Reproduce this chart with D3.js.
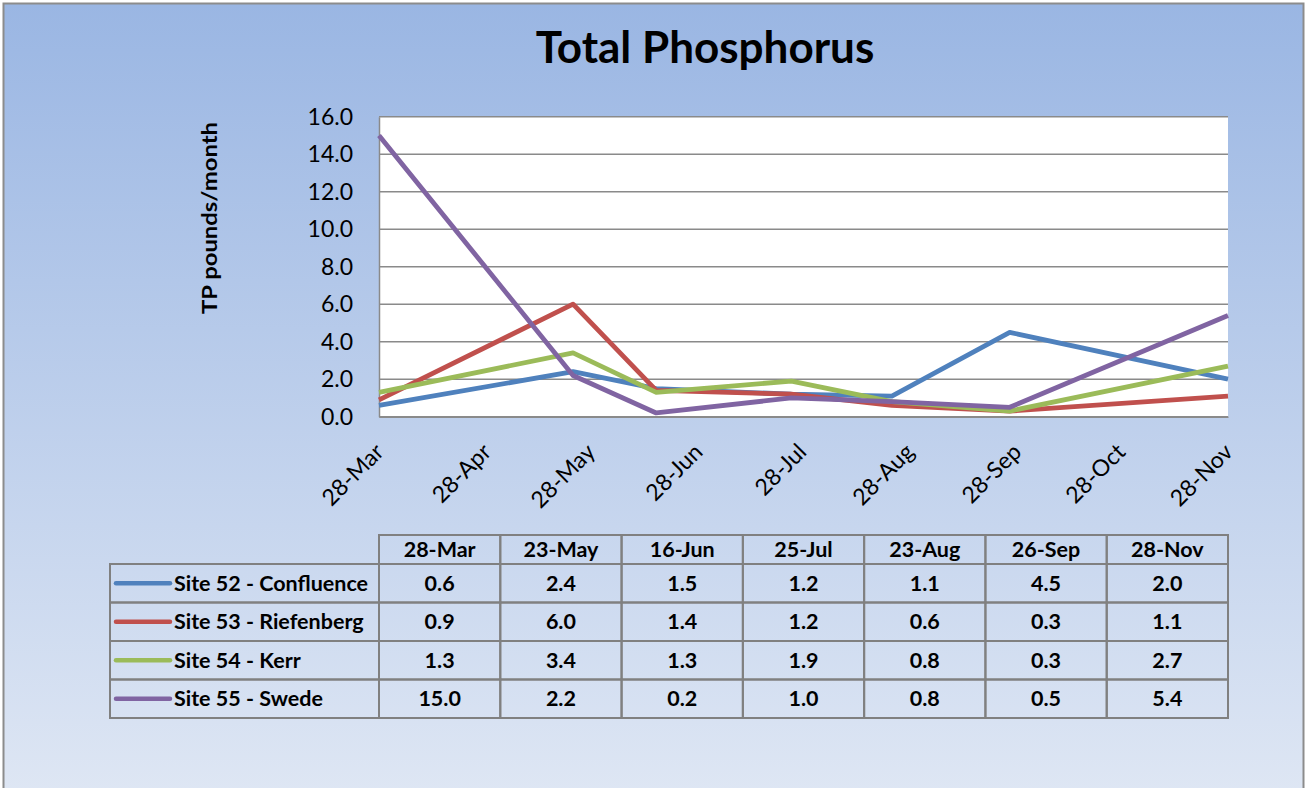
<!DOCTYPE html>
<html>
<head>
<meta charset="utf-8">
<script src="https://cdn.jsdelivr.net/npm/d3@7"></script>
<style>
  html, body { margin: 0; padding: 0; background: #fff; }
  svg { display: block; }
  text { font-family: Lato, "Open Sans", sans-serif; }
</style>
</head>
<body>
<svg id="chart" width="1305" height="788"></svg>
<script>
// ---- data ----
const sampleDates = ["2011-03-28", "2011-05-23", "2011-06-16", "2011-07-25", "2011-08-23", "2011-09-26", "2011-11-28"];
const columnLabels = ["28-Mar", "23-May", "16-Jun", "25-Jul", "23-Aug", "26-Sep", "28-Nov"];
const seriesNames = ["Site 52 - Confluence", "Site 53 - Riefenberg", "Site 54 - Kerr", "Site 55 - Swede"];
const confluence = [0.6, 2.4, 1.5, 1.2, 1.1, 4.5, 2.0];
const riefenberg = [0.9, 6.0, 1.4, 1.2, 0.6, 0.3, 1.1];
const kerr = [1.3, 3.4, 1.3, 1.9, 0.8, 0.3, 2.7];
const swede = [15.0, 2.2, 0.2, 1.0, 0.8, 0.5, 5.4];
const seriesColors = ["#4F81BD", "#C0504D", "#9BBB59", "#8064A2"];
const yTicks = [0, 2, 4, 6, 8, 10, 12, 14, 16];
const xTickDates = ["2011-03-28", "2011-04-28", "2011-05-28", "2011-06-28", "2011-07-28", "2011-08-28", "2011-09-28", "2011-10-28", "2011-11-28"];
const title = "Total Phosphorus";
const yTitle = "TP pounds/month";

const seriesValues = [confluence, riefenberg, kerr, swede];
const parse = d3.timeParse("%Y-%m-%d");
const dates = sampleDates.map(parse);

const svg = d3.select("#chart");
const W = 1305, H = 788;

// background gradient
const defs = svg.append("defs");
const grad = defs.append("linearGradient").attr("id", "bg").attr("x1", 0).attr("y1", 0).attr("x2", 0).attr("y2", 1);
grad.append("stop").attr("offset", "0%").attr("stop-color", "#9AB6E3");
grad.append("stop").attr("offset", "100%").attr("stop-color", "#DFE7F4");
svg.append("rect").attr("x", 0).attr("y", 0).attr("width", W).attr("height", H).attr("fill", "#fff");
svg.append("rect").attr("x", 3.5).attr("y", 3.5).attr("width", 1300).attr("height", 800)
  .attr("fill", "url(#bg)").attr("stroke", "#8C8C8C").attr("stroke-width", 2);

// plot area
const plot = { left: 379, right: 1228, top: 116.7, bottom: 416.7 };
const x = d3.scaleTime().domain([parse(xTickDates[0]), parse(xTickDates[xTickDates.length - 1])]).range([plot.left, plot.right]);
const y = d3.scaleLinear().domain([0, 16]).range([plot.bottom, plot.top]);

svg.append("rect").attr("x", plot.left).attr("y", plot.top)
  .attr("width", plot.right - plot.left).attr("height", plot.bottom - plot.top)
  .attr("fill", "#fff");

// gridlines
svg.append("g").selectAll("line").data(yTicks).join("line")
  .attr("x1", plot.left).attr("x2", plot.right)
  .attr("y1", d => y(d)).attr("y2", d => y(d))
  .attr("stroke", "#8A8A8A").attr("stroke-width", 1.5);

// y axis
const yAxis = svg.append("g").attr("transform", `translate(${plot.left},0)`)
  .call(d3.axisLeft(y).tickValues(yTicks).tickFormat(d3.format(".1f")).tickSize(0).tickPadding(26));
yAxis.select(".domain").attr("stroke", "#8A8A8A").attr("stroke-width", 1.5);
yAxis.selectAll("text").attr("font-size", 23).attr("fill", "#000").attr("font-family", "Lato, sans-serif");

// x axis
const xAxis = svg.append("g").attr("transform", `translate(0,${plot.bottom})`)
  .call(d3.axisBottom(x).tickValues(xTickDates.map(parse)).tickFormat(d3.timeFormat("%d-%b")).tickSize(0));
xAxis.select(".domain").attr("stroke", "#8A8A8A").attr("stroke-width", 1.5);
xAxis.selectAll("text")
  .attr("font-size", 23).attr("fill", "#000").attr("font-family", "Lato, sans-serif")
  .attr("text-anchor", "end")
  .attr("dy", "0.35em")
  .attr("transform", "translate(0,31) rotate(-45)")
  .attr("y", 0).attr("x", 0);

// lines
const line = d3.line().x((d, i) => x(dates[i])).y(d => y(d));
svg.append("g").selectAll("path").data(seriesValues).join("path")
  .attr("d", d => line(d))
  .attr("fill", "none")
  .attr("stroke", (d, i) => seriesColors[i])
  .attr("stroke-width", 4.8)
  .attr("stroke-linejoin", "round");

// title
svg.append("text").attr("x", 705).attr("y", 63).attr("text-anchor", "middle")
  .attr("font-size", 44).attr("font-weight", "bold").attr("fill", "#000").text(title);

// y title
svg.append("text").attr("transform", "translate(217,218) rotate(-90)").attr("text-anchor", "middle")
  .attr("font-size", 20).attr("font-weight", "bold").attr("fill", "#000")
  .attr("textLength", 192).attr("lengthAdjust", "spacingAndGlyphs").text(yTitle);

// data table
const tbl = { left: 110, colStart: 379, colEnd: 1228, headTop: 535, headBottom: 564, rowH: 38.5 };
const colX = d3.scaleBand().domain(columnLabels).range([tbl.colStart, tbl.colEnd]);
const rowY = d3.scaleBand().domain(seriesNames).range([tbl.headBottom, tbl.headBottom + tbl.rowH * seriesNames.length]);
const tg = svg.append("g");
const stroke = "#808080";
const tFont = 21.5;
// header cells
tg.selectAll("rect.h").data(columnLabels).join("rect")
  .attr("x", d => colX(d)).attr("y", tbl.headTop).attr("width", colX.bandwidth()).attr("height", tbl.headBottom - tbl.headTop)
  .attr("fill", "none").attr("stroke", stroke).attr("stroke-width", 2);
tg.selectAll("text.h").data(columnLabels).join("text")
  .attr("x", d => colX(d) + colX.bandwidth() / 2).attr("y", (tbl.headTop + tbl.headBottom) / 2).attr("dy", "0.35em")
  .attr("text-anchor", "middle").attr("font-size", tFont).attr("font-weight", "bold").text(d => d);
// rows
seriesNames.forEach((name, si) => {
  const ry = rowY(name);
  tg.append("rect").attr("x", tbl.left).attr("y", ry).attr("width", tbl.colStart - tbl.left).attr("height", rowY.bandwidth())
    .attr("fill", "none").attr("stroke", stroke).attr("stroke-width", 2);
  tg.append("line").attr("x1", 116).attr("x2", 170).attr("y1", ry + rowY.bandwidth() / 2).attr("y2", ry + rowY.bandwidth() / 2)
    .attr("stroke", seriesColors[si]).attr("stroke-width", 4.5).attr("stroke-linecap", "round");
  tg.append("text").attr("x", 174).attr("y", ry + rowY.bandwidth() / 2).attr("dy", "0.35em")
    .attr("font-size", tFont).attr("font-weight", "bold").text(name);
  tg.selectAll(null).data(seriesValues[si]).join("rect")
    .attr("x", (d, i) => colX(columnLabels[i])).attr("y", ry).attr("width", colX.bandwidth()).attr("height", rowY.bandwidth())
    .attr("fill", "none").attr("stroke", stroke).attr("stroke-width", 2);
  tg.selectAll(null).data(seriesValues[si]).join("text")
    .attr("x", (d, i) => colX(columnLabels[i]) + colX.bandwidth() / 2).attr("y", ry + rowY.bandwidth() / 2).attr("dy", "0.35em")
    .attr("text-anchor", "middle").attr("font-size", tFont).attr("font-weight", "bold").text(d => d3.format(".1f")(d));
});
</script>
</body>
</html>
